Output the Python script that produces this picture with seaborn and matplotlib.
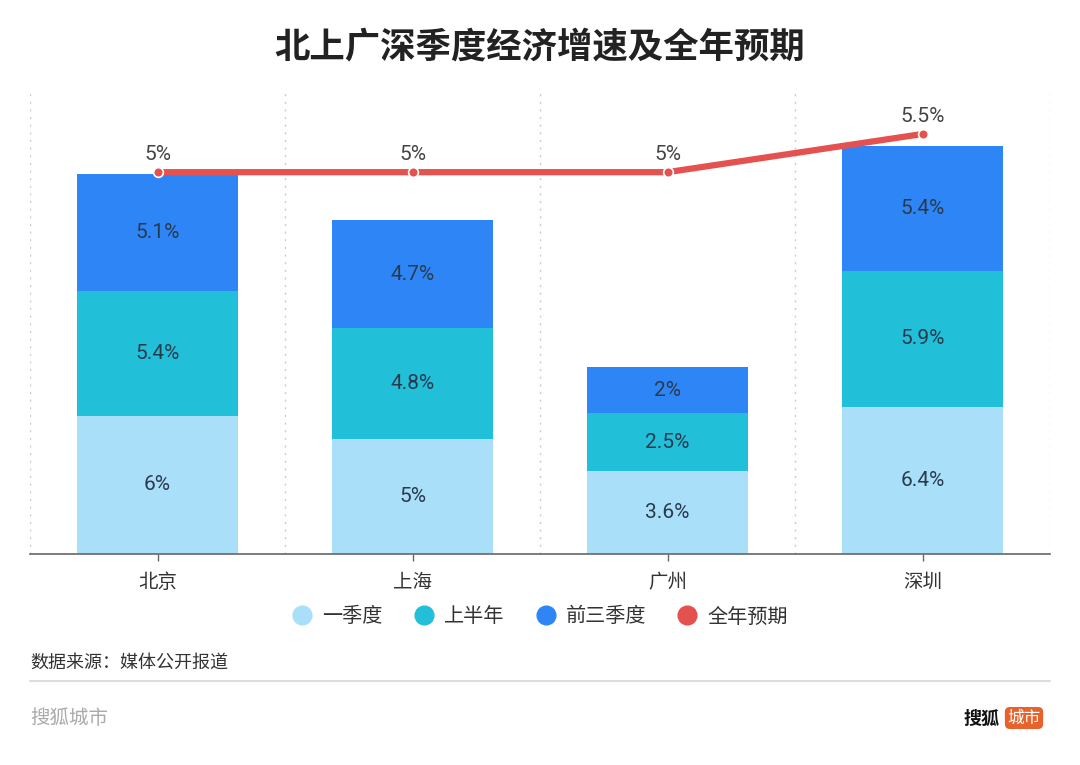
import numpy as np
import pandas as pd
import matplotlib
matplotlib.use("Agg")
import matplotlib.pyplot as plt
from matplotlib.lines import Line2D
import seaborn as sns

cities = ["北京", "上海", "广州", "深圳"]
q1 = [6.0, 5.0, 3.6, 6.4]
h1 = [5.4, 4.8, 2.5, 5.9]
q3 = [5.1, 4.7, 2.0, 5.4]
full_year = [5.0, 5.0, 5.0, 5.5]
series_names = ["一季度", "上半年", "前三季度", "全年预期"]
colors = ["#A9DFF8", "#22BFD9", "#2E86F6", "#E4514E"]

sns.set_theme(style="white")
plt.rcParams["font.family"] = ["Noto Sans CJK SC", "DejaVu Sans"]
num_font = ["Roboto", "Noto Sans CJK SC", "DejaVu Sans"]

fig = plt.figure(figsize=(10.8, 7.65), dpi=100)
ax = fig.add_axes([30/1080, 1-554/765, 1020/1080, 462/765])

df = pd.DataFrame({"city": cities, "q1": q1, "h1": h1, "q3": q3})
df["c1"] = df["q1"]
df["c2"] = df["q1"] + df["h1"]
df["c3"] = df["c2"] + df["q3"]

for col, c in zip(["c3", "c2", "c1"], [colors[2], colors[1], colors[0]]):
    sns.barplot(data=df, x="city", y=col, color=c, width=0.63, ax=ax,
                saturation=1, edgecolor="none", linewidth=0)

# segment labels
for i in range(len(cities)):
    bottoms = [0, df["c1"][i], df["c2"][i]]
    vals = [q1[i], h1[i], q3[i]]
    for b, v in zip(bottoms, vals):
        ax.text(i, b + v/2, f"{v:g}%", ha="center", va="center",
                fontsize=15, color="#2a3a4e", family=num_font)

ax.set_ylim(0, 20.05)
ax.set_xlim(-0.5, 3.5)
ax.set_ylabel("")
ax.set_xlabel("")
ax.set_yticks([])
for b in np.arange(-0.5, 4, 1):
    ax.axvline(b, color="#cccccc", linestyle=(0, (1.5, 4)), linewidth=1, zorder=0)
for s in ["top", "right", "left"]:
    ax.spines[s].set_visible(False)
ax.spines["bottom"].set_color("#666666")
ax.spines["bottom"].set_linewidth(1.2)
ax.tick_params(axis="x", length=5, width=1, color="#666666", labelsize=14,
               labelcolor="#333333", pad=8, bottom=True)

ax2 = ax.twinx()
sns.pointplot(x=cities, y=full_year, ax=ax2, color=colors[3], markers="o",
              markersize=7, linewidth=4.5, markeredgecolor="white",
              markeredgewidth=1.2)
ax2.set_ylim(0, 6.05)
ax2.set_xlim(-0.5, 3.5)
ax2.set_yticks([])
ax2.set_ylabel("")
for s in ax2.spines.values():
    s.set_visible(False)
for i, v in enumerate(full_year):
    ax2.annotate(f"{v:g}%", (i, v), xytext=(0, 6), textcoords="offset points",
                 ha="center", va="bottom", fontsize=15, color="#444444",
                 family=num_font)

fig.text(0.5, 1-47/765, "北上广深季度经济增速及全年预期", ha="center", va="center",
         fontsize=25.5, fontweight="bold", color="#222222")

handles = [Line2D([], [], marker="o", linestyle="none", markersize=13.5,
                  markerfacecolor=c, markeredgecolor=c) for c in colors]
fig.legend(handles, series_names, loc="center", bbox_to_anchor=(0.5, 1-617/765),
           ncol=4, frameon=False, fontsize=14.5, handlelength=1.0,
           handletextpad=0.5, columnspacing=1.55, labelcolor="#333333")

fig.text(30/1080, 1-663/765, "数据来源：媒体公开报道", ha="left", va="center",
         fontsize=13, color="#333333")
fig.add_artist(Line2D([30/1080, 1050/1080], [1-681/765, 1-681/765],
                      color="#dddddd", linewidth=1.5))
fig.text(30/1080, 1-719/765, "搜狐城市", ha="left", va="center",
         fontsize=14, color="#aaaaaa")
fig.text(1000/1080, 1-718/765, "搜狐", ha="right", va="center",
         fontsize=13, color="#111111", fontweight="bold")
fig.text(1024/1080, 1-718/765, "城市", ha="center", va="center",
         fontsize=12, color="white",
         bbox=dict(boxstyle="round,pad=0.15,rounding_size=0.3",
                   facecolor="#E8622C", edgecolor="none"))

fig.savefig("out.png", dpi=100, facecolor="white")
